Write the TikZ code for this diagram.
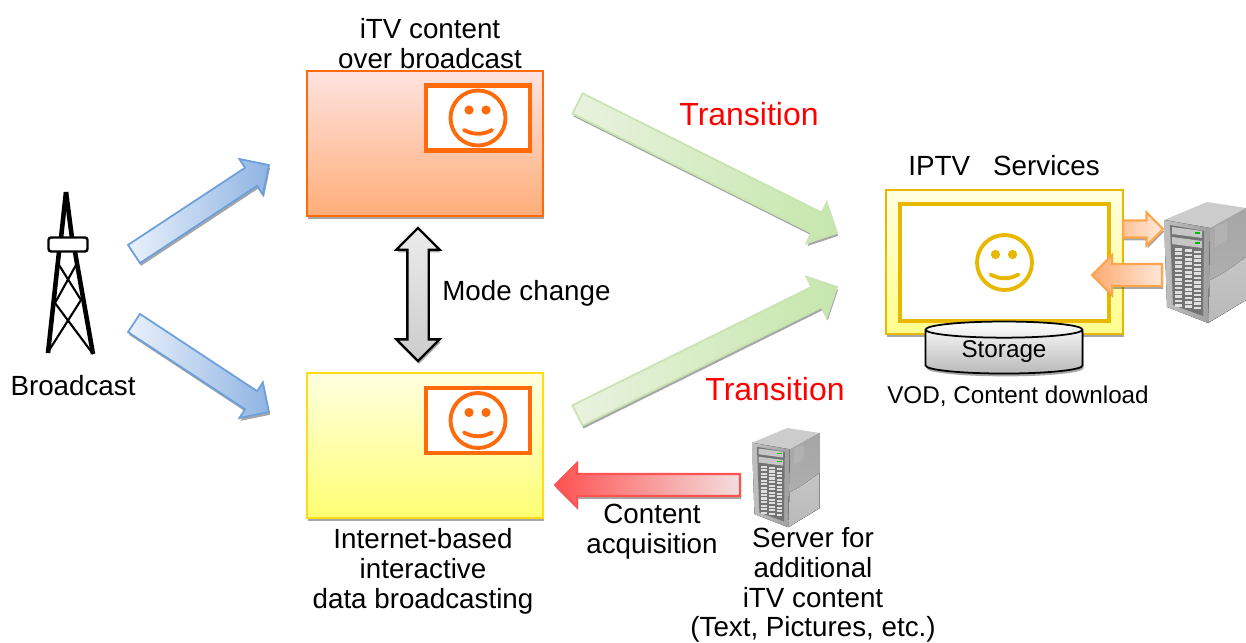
\documentclass[tikz,border=0pt]{standalone}
\usepackage{fontspec}
\setmainfont{Liberation Sans}
\usetikzlibrary{calc}
\usetikzlibrary{positioning}
\usetikzlibrary{shadows}
\usetikzlibrary{shapes.arrows}
\usetikzlibrary{shapes.geometric}

\definecolor{orangeline}{HTML}{FF6A0A}
\definecolor{goldline}{HTML}{E8B800}
\definecolor{yellowline}{HTML}{FFDC14}
\definecolor{redtext}{HTML}{FF0000}
\definecolor{blueline}{HTML}{6C9FDC}
\definecolor{bluepale}{HTML}{EAF1FB}
\definecolor{bluedeep}{HTML}{8FB4E3}
\definecolor{greenline}{HTML}{C9E3B2}
\definecolor{greenpale}{HTML}{E9F2DF}
\definecolor{greendeep}{HTML}{C5E7AB}
\definecolor{redpale}{HTML}{F3DEDE}
\definecolor{reddeep}{HTML}{FF5252}
\definecolor{orangepale}{HTML}{FFE9DA}
\definecolor{orangedeep}{HTML}{FDAA70}

\newcommand{\blockarrow}[4]{
    \path let \p1 = ($(#4) - (#3)$), \n1 = {atan2(\y1, \x1)}, \n2 = {veclen(\x1, \y1)} in
        node[#1, rotate=\n1, minimum height=\n2, anchor=tail] (#2) at (#3) {};
}

\tikzset{
    softshadow/.style={drop shadow={shadow xshift=0.6pt, shadow yshift=-1.6pt, fill=black, opacity=0.35}},
    blockarrow/.style 2 args={single arrow, inner xsep=0pt, outer sep=0pt, inner ysep=#1*0.01cm,
        single arrow head extend={(#2-#1)*0.01cm}, minimum width=#2*0.02cm, line width=1pt, softshadow},
    pics/smiley/.style={code={
        \draw[#1, line width=2.2pt] (0, 0) circle (27.5);
        \fill[#1] (-9, -8) circle (4.6);
        \fill[#1] (8, -8) circle (4.6);
        \draw[#1, line width=2.2pt, line cap=round] (-14, 12) .. controls (-5, 17) and (5, 17) .. (14, 12);
    }},
    pics/server/.style={code={
        % side, top and front
        \fill[top color=gray!70, bottom color=gray!60] (46, 26) -- (82, 6) -- (82, 98) -- (44, 121) -- cycle;
        \fill[top color=gray!45, bottom color=gray!55] (46, 78) .. controls (60, 72) and (72, 62) .. (82, 55) -- (82, 98) -- (44, 121) -- cycle;
        \fill[gray!60] (51, 25) -- (63, 20) -- (63, 38) -- (51, 45) -- cycle;
        \fill[gray!40] (0, 18) -- (43, 0) -- (82, 6) -- (46, 26) -- cycle;
        \fill[left color=gray!50, right color=gray!75] (0, 18) -- (46, 26) -- (44, 121) -- (3, 105) -- cycle;
        \fill[black!55] (6, 23) -- (40, 29) -- (39, 114) -- (9, 103) -- cycle;
        \foreach \y[count=\i from 1] in {25, 35}
        {
            \fill[gray!45] (8, \y) -- (38, \y + 4) -- (38, \y + 11) -- (8, \y + 7) -- cycle;
            \fill[green!75!black] (31, \y + 5) rectangle (36, \y + 7);
        }
        \foreach \c in {0, 1, 2}
        {
            \foreach \r in {0, ..., 13}
            {
                \fill[white!75!gray] (11 + 9.5*\c, 46 + 1.4*\c + 4.3*\r) rectangle ++(7, 2.6);
            }
        }
    }},
}

\begin{document}
\begin{tikzpicture}[x=0.02cm, y=-0.02cm,
        textlabel/.style={align=center, font=\fontsize{15.8}{17}\selectfont, inner sep=0pt},
        redlabel/.style={text=redtext, inner sep=0pt, font=\fontsize{18.2}{20}\selectfont},
        redbox/.style={rectangle, draw=orangeline, line width=1.6pt, top color=orange!15!red!12, bottom color=orangeline!55, minimum width=236*0.02cm, minimum height=145*0.02cm, softshadow},
        yellowbox/.style={rectangle, draw=yellowline, line width=1.6pt, top color=yellow!12, bottom color=yellow!55, minimum width=236*0.02cm, minimum height=145*0.02cm, softshadow},
        screenbox/.style={rectangle, draw=orangeline, fill=white, line width=2.3pt, minimum width=104*0.02cm, minimum height=65*0.02cm},
        bluearrow/.style={blockarrow={20}{41}, draw=blueline, left color=bluepale, right color=bluedeep},
        greenarrow/.style={blockarrow={21}{44}, draw=greenline, left color=greenpale, right color=greendeep},
        orangearrow/.style={draw=orange!70, line width=1.2pt},
        tower/.style={line width=2.6pt, line cap=butt},
        brace/.style={line width=1.2pt}]
    \useasboundingbox (0, 0) rectangle (1246, 642);

    % boxes on the left
    \node[redbox] (itv) at (425, 143.5) {};
    \node[screenbox] (itvscreen) at (478, 118) {};
    \pic at (itvscreen) {smiley=orangeline};
    \node[yellowbox] (inet) at (425, 445.5) {};
    \node[screenbox] (inetscreen) at (478, 420.5) {};
    \pic at (inetscreen) {smiley=orangeline};

    % IPTV box
    \node[rectangle, draw=goldline, line width=1.6pt, top color=yellow!12, bottom color=yellow!45, minimum width=237*0.02cm, minimum height=144*0.02cm, softshadow] (iptv) at (1004.5, 262) {};
    \node[rectangle, draw=goldline, fill=white, line width=2.6pt, minimum width=209*0.02cm, minimum height=117*0.02cm] (iptvscreen) at (1004.5, 262.5) {};
    \pic at (iptvscreen) {smiley=goldline};
    \node[cylinder, shape border rotate=90, aspect=0.19, draw=black, line width=1pt, top color=white, bottom color=gray!55, minimum width=157*0.02cm, minimum height=52*0.02cm, inner sep=0pt, softshadow, font=\fontsize{13.8}{17}\selectfont] (storage) at (1004, 352) {\raisebox{-1.5pt}{Storage}};

    % tower
    \coordinate (apex) at (66, 192);
    \draw[tower] (apex) -- (61, 238);
    \draw[tower] (apex) -- (72, 238);
    \draw[tower] (59, 252) -- (48, 353);
    \draw[tower] (75, 252) -- (93, 354);
    \draw[brace] (59, 265) -- (81, 300) -- (48, 352);
    \draw[brace] (76, 265) -- (55, 303) -- (93, 354);
    \node[rectangle, rounded corners=1.5pt, draw=black, fill=white, line width=1.4pt, minimum width=39*0.02cm, minimum height=14*0.02cm] (platform) at (68, 244.5) {};

    % arrows
    \coordinate (blueA) at (134, 254);
    \coordinate (blueB) at (269, 165);
    \coordinate (blueC) at (134, 323);
    \coordinate (blueD) at (269, 412);
    \blockarrow{bluearrow}{arrowA}{blueA}{blueB}
    \blockarrow{bluearrow}{arrowB}{blueC}{blueD}
    \coordinate (greenA) at (577.5, 103.5);
    \coordinate (greenB) at (837, 233);
    \coordinate (greenC) at (577.5, 415.5);
    \coordinate (greenD) at (837, 287);
    \blockarrow{greenarrow}{arrowC}{greenA}{greenB}
    \blockarrow{greenarrow}{arrowD}{greenC}{greenD}
    \node[double arrow, rotate=90, draw=black, line width=1.3pt, inner xsep=0pt, inner ysep=9.5*0.02cm, double arrow head extend=11*0.02cm, minimum width=41*0.02cm, minimum height=133*0.02cm, top color=gray!15, bottom color=gray!40, softshadow] (modearrow) at (418, 294.5) {};
    \coordinate (sendA) at (1123, 229);
    \coordinate (sendB) at (1163, 229);
    \coordinate (backA) at (1162, 275);
    \coordinate (backB) at (1092, 275);
    \blockarrow{blockarrow={15}{31}, orangearrow, left color=orangedeep!70, right color=orangepale}{arrowE}{sendA}{sendB}
    \blockarrow{blockarrow={20}{38}, orangearrow, left color=orangedeep, right color=orangepale}{arrowF}{backA}{backB}
    \coordinate (fetchA) at (740, 485);
    \coordinate (fetchB) at (555, 485);
    \blockarrow{blockarrow={20}{42}, draw=reddeep, left color=reddeep, right color=redpale, line width=1.2pt}{arrowG}{fetchA}{fetchB}

    % servers
    \pic at (1164, 202) {server};
    \pic[scale=0.82] at (752, 428) {server};

    % labels
    \node[textlabel] (broadcast) at (73, 386) {Broadcast};
    \node[textlabel] (itvtext) at (430, 44) {iTV content\\over broadcast};
    \node[textlabel, right] (modetext) at (442, 293) {Mode change};
    \node[textlabel] (inettext) at (423, 571) {Internet-based\\interactive\\data broadcasting};
    \node[textlabel] (acqtext) at (652, 532) {Content\\acquisition};
    \node[textlabel] (servertext) at (813, 585) {Server for\\additional\\iTV content\\(Text, Pictures, etc.)};
    \node[redlabel] (transA) at (749, 114) {Transition};
    \node[redlabel] (transB) at (775, 389) {Transition};
    \node[textlabel] (iptvtext) at (1004, 166) {IPTV\ \ \ Services};
    \node[textlabel, font=\fontsize{13.8}{17}\selectfont] (vodtext) at (1018, 396) {VOD, Content download};
\end{tikzpicture}
\end{document}
